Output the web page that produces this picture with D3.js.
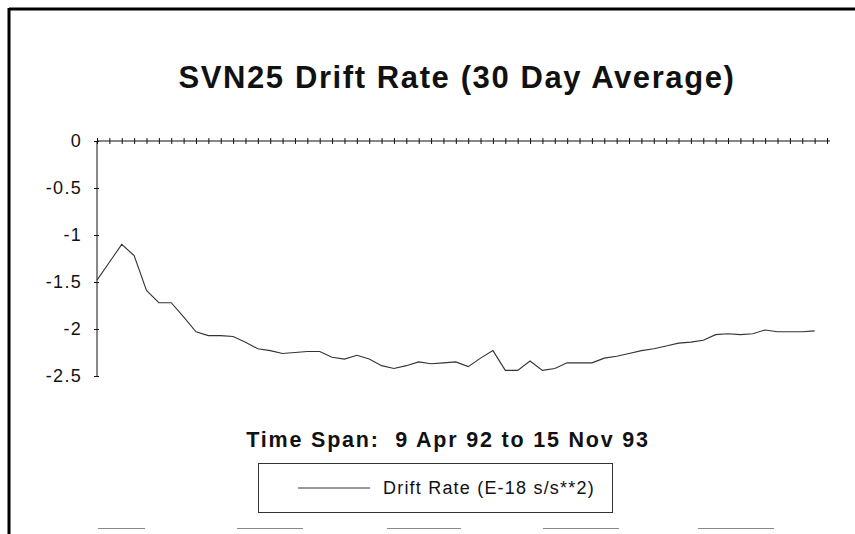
<!DOCTYPE html>
<html>
<head>
<meta charset="utf-8">
<script src="https://cdn.jsdelivr.net/npm/d3@7/dist/d3.min.js"></script>
<style>
  html, body { margin: 0; padding: 0; background: #fff; }
  svg { display: block; }
  text { font-family: "Liberation Sans", Arial, Helvetica, sans-serif; fill: #111; white-space: pre; }
</style>
</head>
<body>
<svg id="chart" width="855" height="534"></svg>
<script>
// ---- Data ----
const title = "SVN25 Drift Rate (30 Day Average)";
const xTitle = "Time Span:  9 Apr 92 to 15 Nov 93";
const seriesName = "Drift Rate (E-18 s/s**2)";
const yTicks = [0, -0.5, -1, -1.5, -2, -2.5];
const yTickLabels = ["0", "-0.5", "-1", "-1.5", "-2", "-2.5"];
const categoryCount = 60; // tick slots along the time axis
const driftRate = [
  -1.48, -1.29, -1.10, -1.22, -1.59, -1.72, -1.72, -1.87, -2.03, -2.07,
  -2.07, -2.08, -2.14, -2.21, -2.23, -2.26, -2.25, -2.24, -2.24, -2.30,
  -2.32, -2.28, -2.32, -2.39, -2.42, -2.39, -2.35, -2.37, -2.36, -2.35,
  -2.40, -2.31, -2.23, -2.44, -2.44, -2.34, -2.44, -2.42, -2.36, -2.36,
  -2.36, -2.31, -2.29, -2.26, -2.23, -2.21, -2.18, -2.15, -2.14, -2.12,
  -2.06, -2.05, -2.06, -2.05, -2.01, -2.03, -2.03, -2.03, -2.02
];

// ---- Layout ----
const svg = d3.select("#chart");
const pLeft = 97, pRight = 827, pTop = 141, pBottom = 376;

const x = d3.scaleLinear().domain([0, categoryCount - 1]).range([pLeft, pRight]);
const y = d3.scaleLinear().domain([0, -2.5]).range([pTop, pBottom]);

// frame (scanned page border)
svg.append("line").attr("x1", 9).attr("x2", 855).attr("y1", 9).attr("y2", 9)
  .attr("stroke", "#000").attr("stroke-width", 3);
svg.append("line").attr("x1", 9).attr("x2", 9).attr("y1", 8).attr("y2", 534)
  .attr("stroke", "#000").attr("stroke-width", 3);
svg.append("line").attr("x1", 98).attr("x2", 775).attr("y1", 528.5).attr("y2", 528.5)
  .attr("stroke", "#888").attr("stroke-width", 1)
  .attr("stroke-dasharray", "47 92 66 84 74 82 76 79 76");

// title
svg.append("text").attr("x", 457).attr("y", 88)
  .attr("text-anchor", "middle").attr("font-size", 31).attr("font-weight", "bold")
  .attr("letter-spacing", 1.6)
  .text(title);

// y axis
const yAxis = d3.axisLeft(y).tickValues(yTicks)
  .tickFormat((d, i) => yTickLabels[i]).tickSize(3).tickPadding(12);
const gy = svg.append("g").attr("transform", `translate(${pLeft},0)`).call(yAxis);
gy.select(".domain").attr("stroke", "#111").attr("d", `M0,${pTop}V${pBottom}`);
gy.selectAll(".tick line").attr("stroke", "#111").attr("x1", 2);
gy.selectAll(".tick text").attr("font-size", 18).attr("letter-spacing", 1.3)
  .style("font-family", "'Liberation Sans', Arial, sans-serif").attr("fill", "#111");

// x axis at zero
const xAxis = d3.axisBottom(x).tickValues(d3.range(categoryCount))
  .tickFormat("").tickSize(3);
const gx = svg.append("g").attr("transform", `translate(0,${y(0)})`).call(xAxis);
gx.select(".domain").attr("stroke", "#111").attr("d", `M${pLeft},0H${x(categoryCount - 1) + 3}`);
gx.selectAll(".tick line").attr("stroke", "#111").attr("y1", -3);

// series line
const line = d3.line().x((d, i) => x(i)).y(d => y(d));
svg.append("path").datum(driftRate)
  .attr("fill", "none").attr("stroke", "#333").attr("stroke-width", 1.1)
  .attr("d", line);

// x axis title
svg.append("text").attr("x", 448).attr("y", 447)
  .attr("text-anchor", "middle").attr("font-size", 21.5).attr("font-weight", "bold")
  .attr("letter-spacing", 1.8)
  .text(xTitle);

// legend
const lg = svg.append("g");
lg.append("rect").attr("x", 258.5).attr("y", 463.5).attr("width", 354).attr("height", 49)
  .attr("fill", "none").attr("stroke", "#333").attr("stroke-width", 1);
lg.append("line").attr("x1", 298).attr("x2", 370).attr("y1", 488).attr("y2", 488)
  .attr("stroke", "#333").attr("stroke-width", 1);
lg.append("text").attr("x", 383).attr("y", 494).attr("font-size", 18)
  .attr("letter-spacing", 1.2)
  .text(seriesName);
</script>
</body>
</html>
